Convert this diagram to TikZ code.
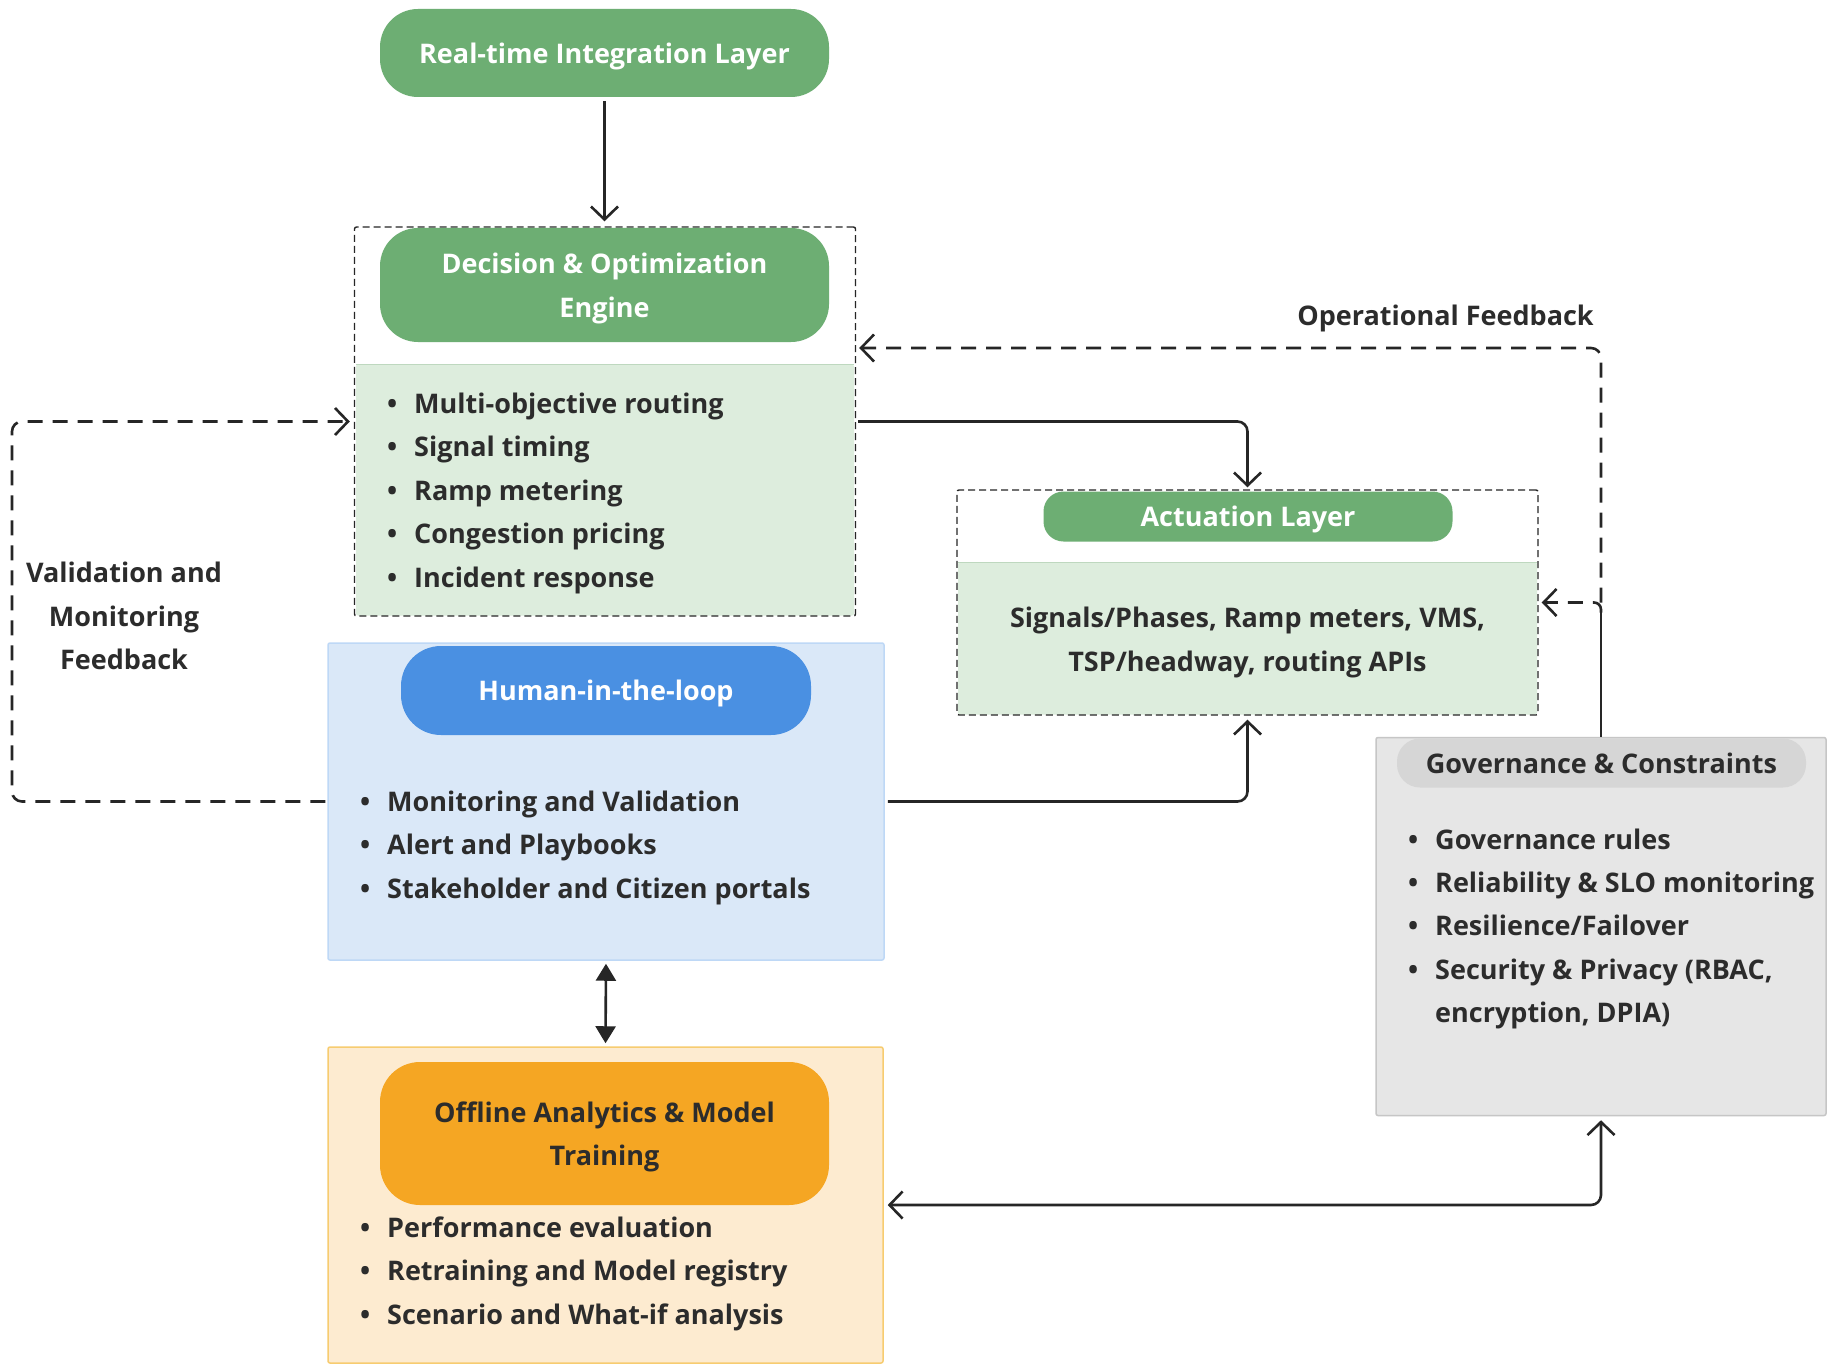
\documentclass[tikz,border=0pt]{standalone}
\usepackage{fontspec}
\setmainfont{Open Sans}
\usetikzlibrary{arrows.meta,calc}
\definecolor{hgreen}{RGB}{109,174,115}
\definecolor{lgreen}{RGB}{221,237,221}
\definecolor{lgreenline}{RGB}{190,216,191}
\definecolor{hblue}{RGB}{74,144,226}
\definecolor{lblue}{RGB}{218,232,248}
\definecolor{lblueb}{RGB}{190,216,246}
\definecolor{horange}{RGB}{245,166,35}
\definecolor{lorange}{RGB}{253,235,208}
\definecolor{lorangeb}{RGB}{247,204,112}
\definecolor{gfill}{RGB}{230,230,230}
\definecolor{gborder}{RGB}{198,198,198}
\definecolor{gpill}{RGB}{214,214,214}
\definecolor{darktxt}{RGB}{44,44,44}
\definecolor{linec}{RGB}{38,38,38}
\newcommand\diagfont{\fontsize{27}{43.5}\selectfont\bfseries}
\newcommand\itm[1]{\makebox[27pt][l]{•}#1}
\begin{document}
\begin{tikzpicture}[x=1pt,y=-1pt,
  >={Straight Barb[length=13pt,width=27pt]},
  hdr/.style={fill=hgreen, text=white, font=\diagfont, align=center, inner sep=0pt, text depth=0pt},
  dbox/.style={draw=linec, line width=1.4pt, dash pattern=on 7pt off 4pt, rounded corners=2pt, inner sep=0pt},
  area/.style={inner sep=0pt, rounded corners=2pt},
  lline/.style={anchor=base west, inner sep=0pt, font=\diagfont, text=darktxt},
  ctxt/.style={font=\diagfont, text=darktxt, align=center, inner sep=0pt},
  conn/.style={draw=linec, line width=2.6pt, rounded corners=10pt},
  dconn/.style={conn, dash pattern=on 15pt off 10pt},
  tri/.style={draw=linec, line width=2.6pt, {Triangle[length=17pt,width=20pt]}-{Triangle[length=17pt,width=20pt]}}
]
\useasboundingbox[fill=white] (0,0) rectangle (1835,1372);

% Real-time integration layer
\node[hdr, minimum width=449, minimum height=88, rounded corners=38pt] (rt) at (604.5,53) {Real-time Integration Layer};

% Decision & Optimization Engine
\node[area, fill=lgreen, minimum width=498, minimum height=251] (decl) at (605,490) {};
\draw[lgreenline, line width=1.5pt] (decl.north west) -- (decl.north east);
\node[dbox, minimum width=501, minimum height=389] (dec) at (605,421.5) {};
\node[hdr, minimum width=449, minimum height=114, rounded corners=38pt] (dech) at (604.5,285) {Decision \& Optimization\\Engine};
\foreach \t [count=\i] in {Multi-objective routing, Signal timing, Ramp metering, Congestion pricing, Incident response}
  \node[lline] (dl\i) at (387,{413+43.6*(\i-1)}) {\itm{\t}};

% Human-in-the-loop
\node[area, fill=lblue, draw=lblueb, line width=1.5pt, minimum width=556, minimum height=317] (hum) at (606,801.5) {};
\node[hdr, fill=hblue, minimum width=410, minimum height=89, rounded corners=40pt] (humh) at (606,690.5) {Human-in-the-loop};
\foreach \t [count=\i] in {Monitoring and Validation, Alert and Playbooks, Stakeholder and Citizen portals}
  \node[lline] (hl\i) at (360,{811+43.8*(\i-1)}) {\itm{\t}};

% Offline analytics
\node[area, fill=lorange, draw=lorangeb, line width=1.5pt, minimum width=555, minimum height=316] (off) at (605.5,1205) {};
\node[hdr, fill=horange, text=darktxt, minimum width=449, minimum height=143, rounded corners=40pt] (offh) at (604.5,1133.5) {Offline Analytics \& Model\\Training};
\foreach \t [count=\i] in {Performance evaluation, Retraining and Model registry, Scenario and What-if analysis}
  \node[lline] (ol\i) at (360,{1237+43.5*(\i-1)}) {\itm{\t}};

% Actuation layer
\node[area, fill=lgreen, minimum width=579, minimum height=152] (actl) at (1247.5,638.5) {};
\draw[lgreenline, line width=1.5pt] (actl.north west) -- (actl.north east);
\node[dbox, minimum width=581, minimum height=225] (act) at (1247.5,602.5) {};
\node[hdr, minimum width=409, minimum height=50, rounded corners=20pt] (acth) at (1248,516.5) {Actuation Layer};
\node[ctxt] (actt) at (1247.5,642.5) {Signals/Phases, Ramp meters, VMS,\\TSP/headway, routing APIs};

% Governance
\node[area, fill=gfill, draw=gborder, line width=1.5pt, minimum width=450, minimum height=378] (gov) at (1601,926.5) {};
\node[hdr, fill=gpill, text=darktxt, minimum width=409, minimum height=49, rounded corners=23pt] (govh) at (1601.5,763) {Governance \& Constraints};
\foreach \t [count=\i] in {Governance rules, Reliability \& SLO monitoring, Resilience/Failover, {Security \& Privacy (RBAC,}}
  \node[lline] (gl\i) at (1408,{849+43.4*(\i-1)}) {\itm{\t}};
\node[lline] (gl5) at (1435,1022.5) {encryption, DPIA)};

% Labels
\node[ctxt] (vlab) at (124,616) {Validation and\\Monitoring\\Feedback};
\node[ctxt] (olab) at (1445.5,318) {Operational Feedback};

% Connectors
\coordinate (lx) at (12,0);
\coordinate (opy) at (0,348);
\coordinate (j) at (gov.north |- act.east);

\draw[conn,->, shorten <=4pt, shorten >=5pt] (rt.south) -- (rt.south |- dec.north);
\draw[conn,->, shorten <=2pt, shorten >=2pt] (dec.east) -| (act.north);
\draw[conn,->, shorten <=3pt, shorten >=4pt] (hum.east) -| (act.south);
\draw[dconn,->, shorten <=2pt, shorten >=4pt] (hum.west) -- (hum.west -| lx) -- (lx |- dec.west) -- (dec.west);
\draw[conn] (gov.north) -- ($(j)+(0,8)$);
\draw[dconn,->, rounded corners=7pt, shorten >=3pt] ($(j)+(0,10)$) -- (j) -- (act.east);
\draw[dconn,->, shorten >=3pt] (j) -- (j |- opy) -- (dec.east |- opy);
\draw[conn,<->, shorten <=4pt, shorten >=4pt] (off.east) -| (gov.south);
\draw[tri, shorten <=3pt, shorten >=3pt] (hum.south) -- (off.north);
\end{tikzpicture}
\end{document}
